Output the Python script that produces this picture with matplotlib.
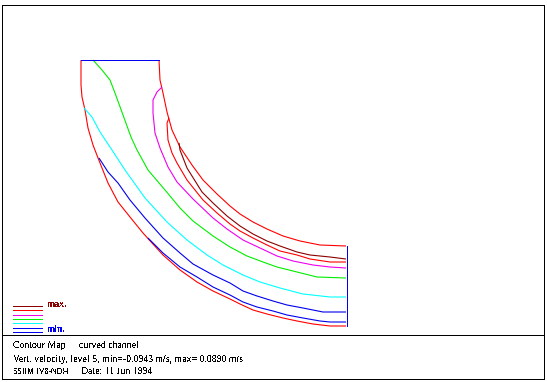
import matplotlib
matplotlib.use("Agg")
import matplotlib.pyplot as plt

DARK = "#8b0000"; RED = "#ff0000"; MAG = "#ee00ee"; GRN = "#00ee00"; CYN = "#00ffff"; BLU = "#0000ee"

outer_x = [81,81,82,85,88,93,100,108,118,130,143,152,163,180,197,213,230,240,253,267,283,297,313,330,346]
outer_y = [60,85,97,110,128,145,163,183,202,217,233,243,255,270,282,291,299,304,310,314,318,321,324,326,326]
inner_x = [159,160,163,167,172,180,192,203,217,230,240,253,267,283,300,320,346]
inner_y = [60,80,93,112,130,147,165,180,194,206,214,222,229,236,241,245,246]
dark_x = [179,180,187,202,213,227,240,253,267,280,297,310,330,346]
dark_y = [143,150,168,192,203,216,226,234,241,246,252,255,257,259]
red2_x = [169,167,168,172,177,187,203,217,230,240,253,267,280,297,310,330,346]
red2_y = [118,123,140,153,163,180,200,213,224,231,238,245,251,255,259,262,262]
mag_x = [162,157,153,153,155,160,168,177,193,213,227,243,260,277,293,313,330,346]
mag_y = [87,92,100,113,133,148,167,182,199,218,229,240,248,256,261,265,267,268]
grn_x = [93,102,110,115,123,131,137,148,165,180,193,213,230,247,263,277,297,317,346]
grn_y = [60,70,80,93,115,137,150,170,190,208,221,236,247,256,262,267,272,277,278]
cyn_x = [84,92,100,112,125,145,167,187,207,223,243,260,280,303,330,346]
cyn_y = [108,117,132,150,170,198,222,240,255,265,275,282,288,294,297,297]
blu1_x = [99,108,118,130,145,163,180,193,213,230,243,257,273,287,303,323,346]
blu1_y = [158,172,183,200,218,238,253,264,275,283,291,296,301,305,308,312,312]
blu2_x = [148,163,180,197,213,230,243,257,273,287,303,320,330,346]
blu2_y = [238,253,267,277,287,295,302,307,311,315,318,321,322,322]
top_x = [81,159]
top_y = [60,60]
end_x = [346.5,346.5]
end_y = [246,326]
frame_x = [2,544,544,2,2]
frame_y = [5,5,379,379,5]
sep_x = [2,544]
sep_y = [335,335]
legend_x = [13,42]
legend_y = [306,310,315,319,323,328,332]
legend_colors = [DARK,RED,MAG,GRN,CYN,BLU,BLU]

plt.rcParams["text.antialiased"] = False
fig = plt.figure(figsize=(5.47,3.82), dpi=100, facecolor="white")
ax = fig.add_axes([0,0,1,1])
ax.set_xlim(0,547); ax.set_ylim(382,0); ax.axis("off")

def ln(x,y,c,lw=0.8,aa=True):
    ax.plot(x,y,color=c,lw=lw,antialiased=aa,solid_capstyle="butt",solid_joinstyle="round")

ln(frame_x,frame_y,"k",0.72,False); ln(sep_x,sep_y,"k",0.72,False)
ln(outer_x,outer_y,RED); ln(inner_x,inner_y,RED); ln(dark_x,dark_y,DARK)
ln(red2_x,red2_y,RED); ln(mag_x,mag_y,MAG); ln(grn_x,grn_y,GRN); ln(cyn_x,cyn_y,CYN)
ln(blu1_x,blu1_y,BLU); ln(blu2_x,blu2_y,BLU); ln(top_x,top_y,BLU,0.6,False); ln(end_x,end_y,BLU,0.6,False)
for y,c in zip(legend_y,legend_colors):
    ln(legend_x,[y,y],c,0.6,False)

F = dict(family="Liberation Serif", fontsize=7.0, va="center", ha="left", color="k")
ax.text(47,304.5,"max.",**{**F,"color":DARK,"fontweight":"bold"})
ax.text(47,330,"min.",**{**F,"color":BLU,"fontweight":"bold"})
ax.text(13,345.5,"Contour Map",**F)
ax.text(79,345.5,"curved channel",**F)
ax.text(13,359,"Vert. velocity, level 5, min=-0.0943 m/s, max= 0.0890 m/s",**F)
ax.text(13,372,"SSIIM IV8-NDH",**{**F,"fontsize":5.8})
ax.text(81,372,"Date: 11 Jun 1994",**F)
fig.savefig("out.png",dpi=100)
